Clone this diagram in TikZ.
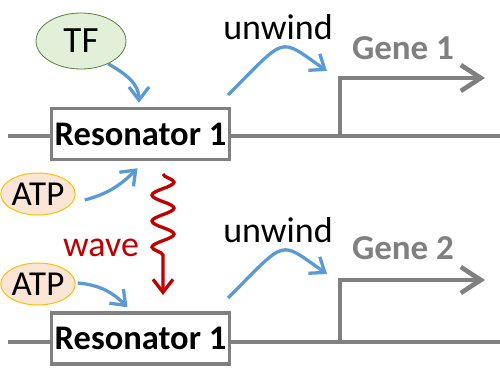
\documentclass[tikz,border=0pt]{standalone}
\usepackage{fontspec}
\setmainfont{Carlito}
\usetikzlibrary{arrows.meta,shapes.geometric,decorations.pathmorphing,calc}
\definecolor{dnagray}{HTML}{808080}
\definecolor{arrblue}{HTML}{5B9BD5}
\definecolor{wavered}{HTML}{C00000}
\definecolor{tffill}{HTML}{E2F0D9}
\definecolor{tfedge}{HTML}{548235}
\definecolor{atpfill}{HTML}{FBE5D6}
\definecolor{atpedge}{HTML}{FFC000}
\begin{document}
\begin{tikzpicture}[x=1pt,y=1pt,
  big/.style={font=\fontsize{36}{42}\selectfont, inner sep=0pt},
  genelabel/.style={font=\fontsize{35}{42}\selectfont\bfseries, text=dnagray, inner sep=0pt},
  resbox/.style={draw=dnagray, line width=3.5pt, fill=white, minimum width=178pt, minimum height=51pt, inner sep=0pt, font=\fontsize{34.5}{42}\selectfont\bfseries},
  dna/.style={draw=dnagray, line width=4.6pt},
  genearrow/.style={dna, -{Straight Barb[length=20pt,width=26pt]}},
  bluearrow/.style={draw=arrblue, line width=3.3pt, -{Straight Barb[length=13pt,width=20pt]}},
  wavearrow/.style={draw=wavered, line width=3.3pt, -{Straight Barb[length=13pt,width=20pt]}},
  tfnode/.style={ellipse, draw=tfedge, fill=tffill, line width=0.8pt, minimum width=90pt, minimum height=56pt, inner sep=0pt, font=\fontsize{37}{42}\selectfont},
  atpnode/.style={ellipse, draw=atpedge, fill=atpfill, line width=1pt, minimum width=60pt, minimum height=42pt, inner sep=0pt, font=\fontsize{35}{42}\selectfont}
]
\useasboundingbox (0,0) rectangle (500,369);

% DNA lines
\coordinate (l1a) at (8,233);
\coordinate (l1b) at (500,233);
\coordinate (l2a) at (8,27);
\coordinate (l2b) at (500,27);
\draw[dna] (l1a) -- (l1b);
\draw[dna] (l2a) -- (l2b);

% Promoters / genes
\coordinate (p1) at (340,233);
\coordinate (g1tip) at (485,291);
\draw[genearrow] (p1) |- (g1tip);
\coordinate (p2) at (340,27);
\coordinate (g2tip) at (485,89);
\draw[genearrow] (p2) |- (g2tip);
\node[genelabel] (gene1) at (403,321) {Gene 1};
\node[genelabel] (gene2) at (403,121) {Gene 2};

% Resonators
\node[resbox] (res1) at (140.5,235) {Resonator 1};
\node[resbox] (res2) at (140.5,30.5) {Resonator 1};

% TF and ATP
\node[tfnode] (tf) at (81,328) {TF};
\node[atpnode] (atpA) at (38,175) {ATP};
\node[atpnode] (atpB) at (38,85) {ATP};

% labels
\node[big] (unw1) at (278,342) {unwind};
\node[big] (unw2) at (278,139) {unwind};
\node[big, text=wavered] (wavelbl) at (101,121) {wave};

% blue arrows
\draw[bluearrow] (tf.-40) to[out=-30, in=90] ([xshift=-1.5pt,yshift=4pt]res1.north);
\draw[bluearrow] ([xshift=9pt,yshift=-6pt]atpA.east) to[out=15, in=225] ([xshift=-3pt,yshift=-7pt]res1.south);
\draw[bluearrow] ([xshift=2pt,yshift=1pt]atpB.east) to[out=-5, in=135] ([xshift=-13pt,yshift=4pt]res2.north);

\coordinate (u1s) at (228,274);
\coordinate (u1e) at (327,298);
\draw[bluearrow] (u1s) .. controls (288,334) and (278,332) .. (u1e);
\coordinate (u2s) at (228,71);
\coordinate (u2e) at (327,95);
\draw[bluearrow] (u2s) .. controls (288,131) and (278,129) .. (u2e);

% wave
\coordinate (w1) at (163,195);
\coordinate (w2) at (163,74);
\draw[wavearrow, decorate, decoration={snake, segment length=26pt, amplitude=11pt, post length=28pt}] (w1) -- (w2);
\end{tikzpicture}
\end{document}
